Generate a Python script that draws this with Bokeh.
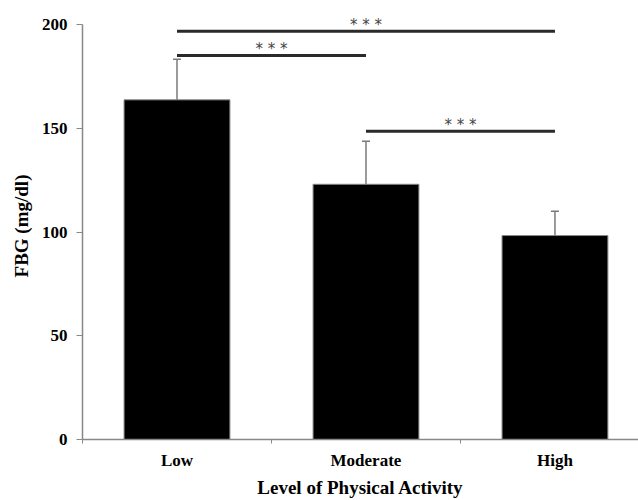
from bokeh.plotting import figure
from bokeh.models import Range1d, FixedTicker, ColumnDataSource, Whisker, TeeHead
from bokeh.embed import file_html
from bokeh.resources import INLINE

# ---- data ----
categories = ["Low", "Moderate", "High"]
fbg_mean = [163.7, 123.0, 98.3]
fbg_err_upper = [183.3, 143.8, 110.0]

comp_start = ["Low", "Low", "Moderate"]
comp_end = ["High", "Moderate", "High"]
comp_height = [196.8, 185.1, 148.6]
comp_label = ["* * *", "* * *", "* * *"]

y_ticks = [0, 50, 100, 150, 200]

x_title = "Level of Physical Activity"
y_title = "FBG (mg/dl)"

# ---- positions from category index ----
pos = {c: i + 0.5 for i, c in enumerate(categories)}
xs = [pos[c] for c in categories]

bars = ColumnDataSource(dict(x=xs, top=fbg_mean, upper=fbg_err_upper, base=xs))
x0 = [pos[c] for c in comp_start]
x1 = [pos[c] for c in comp_end]
comps = ColumnDataSource(dict(x0=x0, x1=x1, y=comp_height,
                              xm=[(a + b) / 2 for a, b in zip(x0, x1)],
                              label=comp_label))

p = figure(width=638, height=500, output_backend="svg", toolbar_location=None,
           x_range=Range1d(0, 2.942), y_range=Range1d(0, 205.8),
           min_border_left=82, min_border_right=0, min_border_top=12,
           min_border_bottom=61)
p.outline_line_color = None
p.grid.grid_line_color = None
p.background_fill_color = "white"

p.vbar(x="x", top="top", bottom=0, width=0.56, source=bars,
       fill_color="black", line_color="#888888", line_width=1)

wk = Whisker(base="base", upper="upper", lower="top", source=bars,
             dimension="height", line_color="#7a7a7a", line_width=1.5,
             upper_head=TeeHead(size=8, line_color="#7a7a7a", line_width=1.5),
             lower_head=None)
p.add_layout(wk)

p.segment(x0="x0", y0="y", x1="x1", y1="y", source=comps,
          line_color="#2a2a2a", line_width=3)
p.text(x="xm", y="y", text="label", source=comps, text_align="center",
       text_baseline="middle", y_offset=-6, text_font_size="15px",
       text_color="#444444", text_font={"value": "DejaVu Sans"})

serif = "Liberation Serif"

# y axis
ya = p.yaxis[0]
ya.ticker = FixedTicker(ticks=y_ticks)
ya.bounds = (0, 200)
ya.axis_line_color = "#888888"
ya.axis_line_width = 1.5
ya.major_tick_line_color = "#888888"
ya.major_tick_out = 6
ya.major_tick_in = 0
ya.minor_tick_line_color = None
ya.major_label_text_font = serif
ya.major_label_text_font_style = "bold"
ya.major_label_text_font_size = "17px"
ya.major_label_text_color = "black"
ya.major_label_standoff = 9
ya.axis_label = y_title
ya.axis_label_text_font = serif
ya.axis_label_text_font_style = "bold"
ya.axis_label_text_font_size = "19px"
ya.axis_label_text_color = "black"
ya.axis_label_standoff = 7

# x axis
xa = p.xaxis[0]
xa.ticker = FixedTicker(ticks=xs, minor_ticks=[0, 1, 2, 3])
xa.major_label_overrides = {x: c for x, c in zip(xs, categories)}
xa.axis_line_color = "#888888"
xa.axis_line_width = 1.5
xa.major_tick_line_color = None
xa.major_tick_out = 0
xa.major_tick_in = 0
xa.minor_tick_line_color = "#888888"
xa.minor_tick_out = 4
xa.minor_tick_in = 0
xa.major_label_text_font = serif
xa.major_label_text_font_style = "bold"
xa.major_label_text_font_size = "17px"
xa.major_label_text_color = "black"
xa.major_label_standoff = 7
xa.axis_label = x_title
xa.axis_label_text_font = serif
xa.axis_label_text_font_style = "bold"
xa.axis_label_text_font_size = "19px"
xa.axis_label_text_color = "black"
xa.axis_label_standoff = 4

open("out.html", "w").write(file_html(p, INLINE))
